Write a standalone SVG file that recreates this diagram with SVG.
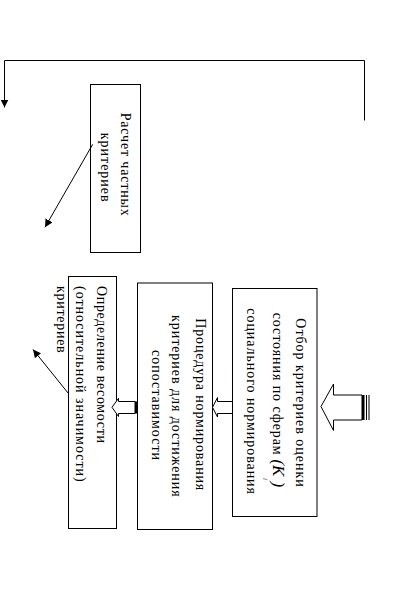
<svg xmlns="http://www.w3.org/2000/svg" width="417" height="613" viewBox="0 0 417 613">
<style>
.box{fill:#fff;stroke:#000;stroke-width:1}
.t{font-family:"Liberation Serif","Times New Roman",serif;font-size:14px;fill:#000}
.ti{font-family:"Liberation Serif","Times New Roman",serif;font-style:italic;fill:#000}
.ln{fill:none;stroke:#000;stroke-width:1}
.hollow{fill:#fff;stroke:#000;stroke-width:1}
</style>
<defs>
<marker id="ah" markerWidth="8" markerHeight="8" refX="8" refY="4" orient="auto" markerUnits="userSpaceOnUse">
<path d="M0,0 L8,4 L0,8 z" fill="#000"/>
</marker>
</defs>
<rect width="417" height="613" fill="#fff"/>

<g id="node-raschet">
<rect class="box" x="90.5" y="84.5" width="50" height="168"/>
<text class="t" transform="translate(120.5,112.7) rotate(90)" textLength="103" lengthAdjust="spacing">Расчет частных</text>
<text class="t" transform="translate(101,132.7) rotate(90)" textLength="69" lengthAdjust="spacing">критериев</text>
</g>

<g id="node-otbor">
<rect class="box" x="232.5" y="288.5" width="84.5" height="228"/>
<text class="t" transform="translate(295.5,318.3) rotate(90)" textLength="168.4" lengthAdjust="spacing">Отбор критериев оценки</text>
<text class="t" transform="translate(272.5,312.7) rotate(90)" textLength="142" lengthAdjust="spacing">состояния по сферам</text>
<text class="ti" font-size="17" transform="translate(273,459.5) rotate(90)">(</text>
<text class="ti" font-size="17" transform="translate(273,465) rotate(90)">K</text>
<text class="ti" font-size="7" transform="translate(262.5,478) rotate(90)">i</text>
<text class="ti" font-size="17" transform="translate(273,481.5) rotate(90)">)</text>
<text class="t" transform="translate(246.5,308.3) rotate(90)" textLength="185.7" lengthAdjust="spacing">социального нормирования</text>
</g>

<g id="node-procedura">
<rect class="box" x="137.5" y="283" width="75" height="246.5"/>
<text class="t" transform="translate(195.5,318.3) rotate(90)" textLength="172" lengthAdjust="spacing">Процедура нормирования</text>
<text class="t" transform="translate(172,315) rotate(90)" textLength="181.7" lengthAdjust="spacing">критериев для достижения</text>
<text class="t" transform="translate(152,350) rotate(90)" textLength="110" lengthAdjust="spacing">сопоставимости</text>
</g>

<g id="node-opredelenie">
<rect class="box" x="68.5" y="276.5" width="48" height="252"/>
<text class="t" transform="translate(96.5,286) rotate(90)" textLength="157" lengthAdjust="spacing">Определение весомости</text>
<text class="t" transform="translate(75.5,286) rotate(90)" textLength="195.7" lengthAdjust="spacing">(относительной значимости)</text>
<text class="t" transform="translate(56.5,286) rotate(90)" textLength="66.7" lengthAdjust="spacing">критериев</text>
</g>

<g id="connectors">
<polyline class="ln" points="364.5,120.5 364.5,60.5 4.5,60.5 4.5,107.5" marker-end="url(#ah)"/>
<line class="ln" x1="92.7" y1="144.3" x2="45" y2="227.3" marker-end="url(#ah)"/>
<line class="ln" x1="68.3" y1="393.3" x2="33" y2="349.5" marker-end="url(#ah)"/>
<polygon class="hollow" points="321,406.5 333.5,384 333.5,395 362,395 362,420 333.5,420 333.5,430.5"/>
<rect x="362" y="395" width="2.5" height="25" fill="#000"/>
<line class="ln" x1="366.5" y1="395" x2="366.5" y2="420"/>
<line class="ln" x1="369" y1="395" x2="369" y2="420"/>
<polygon class="hollow" points="212.5,407.3 217.5,397.5 217.5,401.5 232.5,401.5 232.5,413.5 217.5,413.5 217.5,417"/>
<polygon class="hollow" points="112,407.3 118.5,398.3 118.5,401.5 135,401.5 135,413.5 118.5,413.5 118.5,416.5"/>
<rect x="135" y="401.5" width="2.5" height="12" fill="#000"/>
</g>
</svg>
